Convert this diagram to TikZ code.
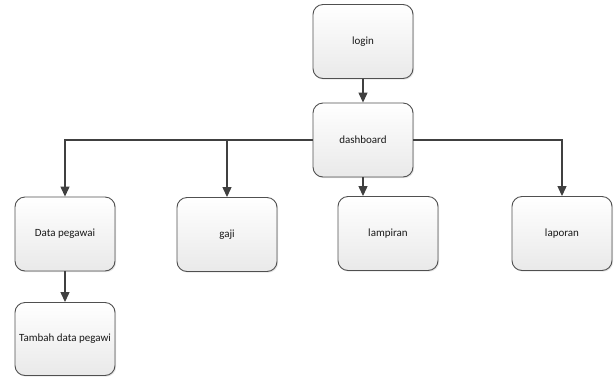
\documentclass[tikz,border=0pt]{standalone}
\usepackage{fontspec}
\setmainfont{Carlito}
\usetikzlibrary{arrows.meta,shadows}
\definecolor{edgegray}{HTML}{404040}
\definecolor{boxline}{HTML}{505050}
\definecolor{boxlow}{HTML}{E9E9E9}
\tikzset{
  menubox/.style={draw=boxline, line width=0.9pt, rounded corners=10pt,
    minimum width=100pt, minimum height=74pt, top color=white, bottom color=boxlow,
    font=\fontsize{11}{13}\selectfont, text=black!90, inner sep=1pt,
    drop shadow={shadow xshift=1.2pt, shadow yshift=-1.2pt, opacity=0.2}},
  flow/.style={draw=edgegray, line width=1.2pt,
    -{Triangle[width=9pt,length=10pt]}}
}
\begin{document}
\begin{tikzpicture}[x=1pt,y=-1pt]
\useasboundingbox (0,0) rectangle (614,376);
\node[menubox] (login) at (363,41.5) {login};
\node[menubox] (dash) at (363,140) {dashboard};
\node[menubox] (dp) at (65,234) {Data pegawai};
\node[menubox] (gaji) at (227,234.5) {gaji};
\node[menubox] (lamp) at (388,233.5) {lampiran};
\node[menubox] (lap) at (562,233.5) {laporan};
\node[menubox, minimum height=73pt] (tambah) at (65,339) {Tambah data pegawi};

\draw[flow] (login.south) -- (dash.north);
\draw[flow] (dash.west) -| (dp.north);
\draw[flow] (dash.west -| gaji.north) -- (gaji.north);
\draw[flow] (dash.south) -- (dash.south |- lamp.north);
\draw[flow] (dash.east) -| (lap.north);
\draw[flow] (dp.south) -- (tambah.north);
\end{tikzpicture}
\end{document}
